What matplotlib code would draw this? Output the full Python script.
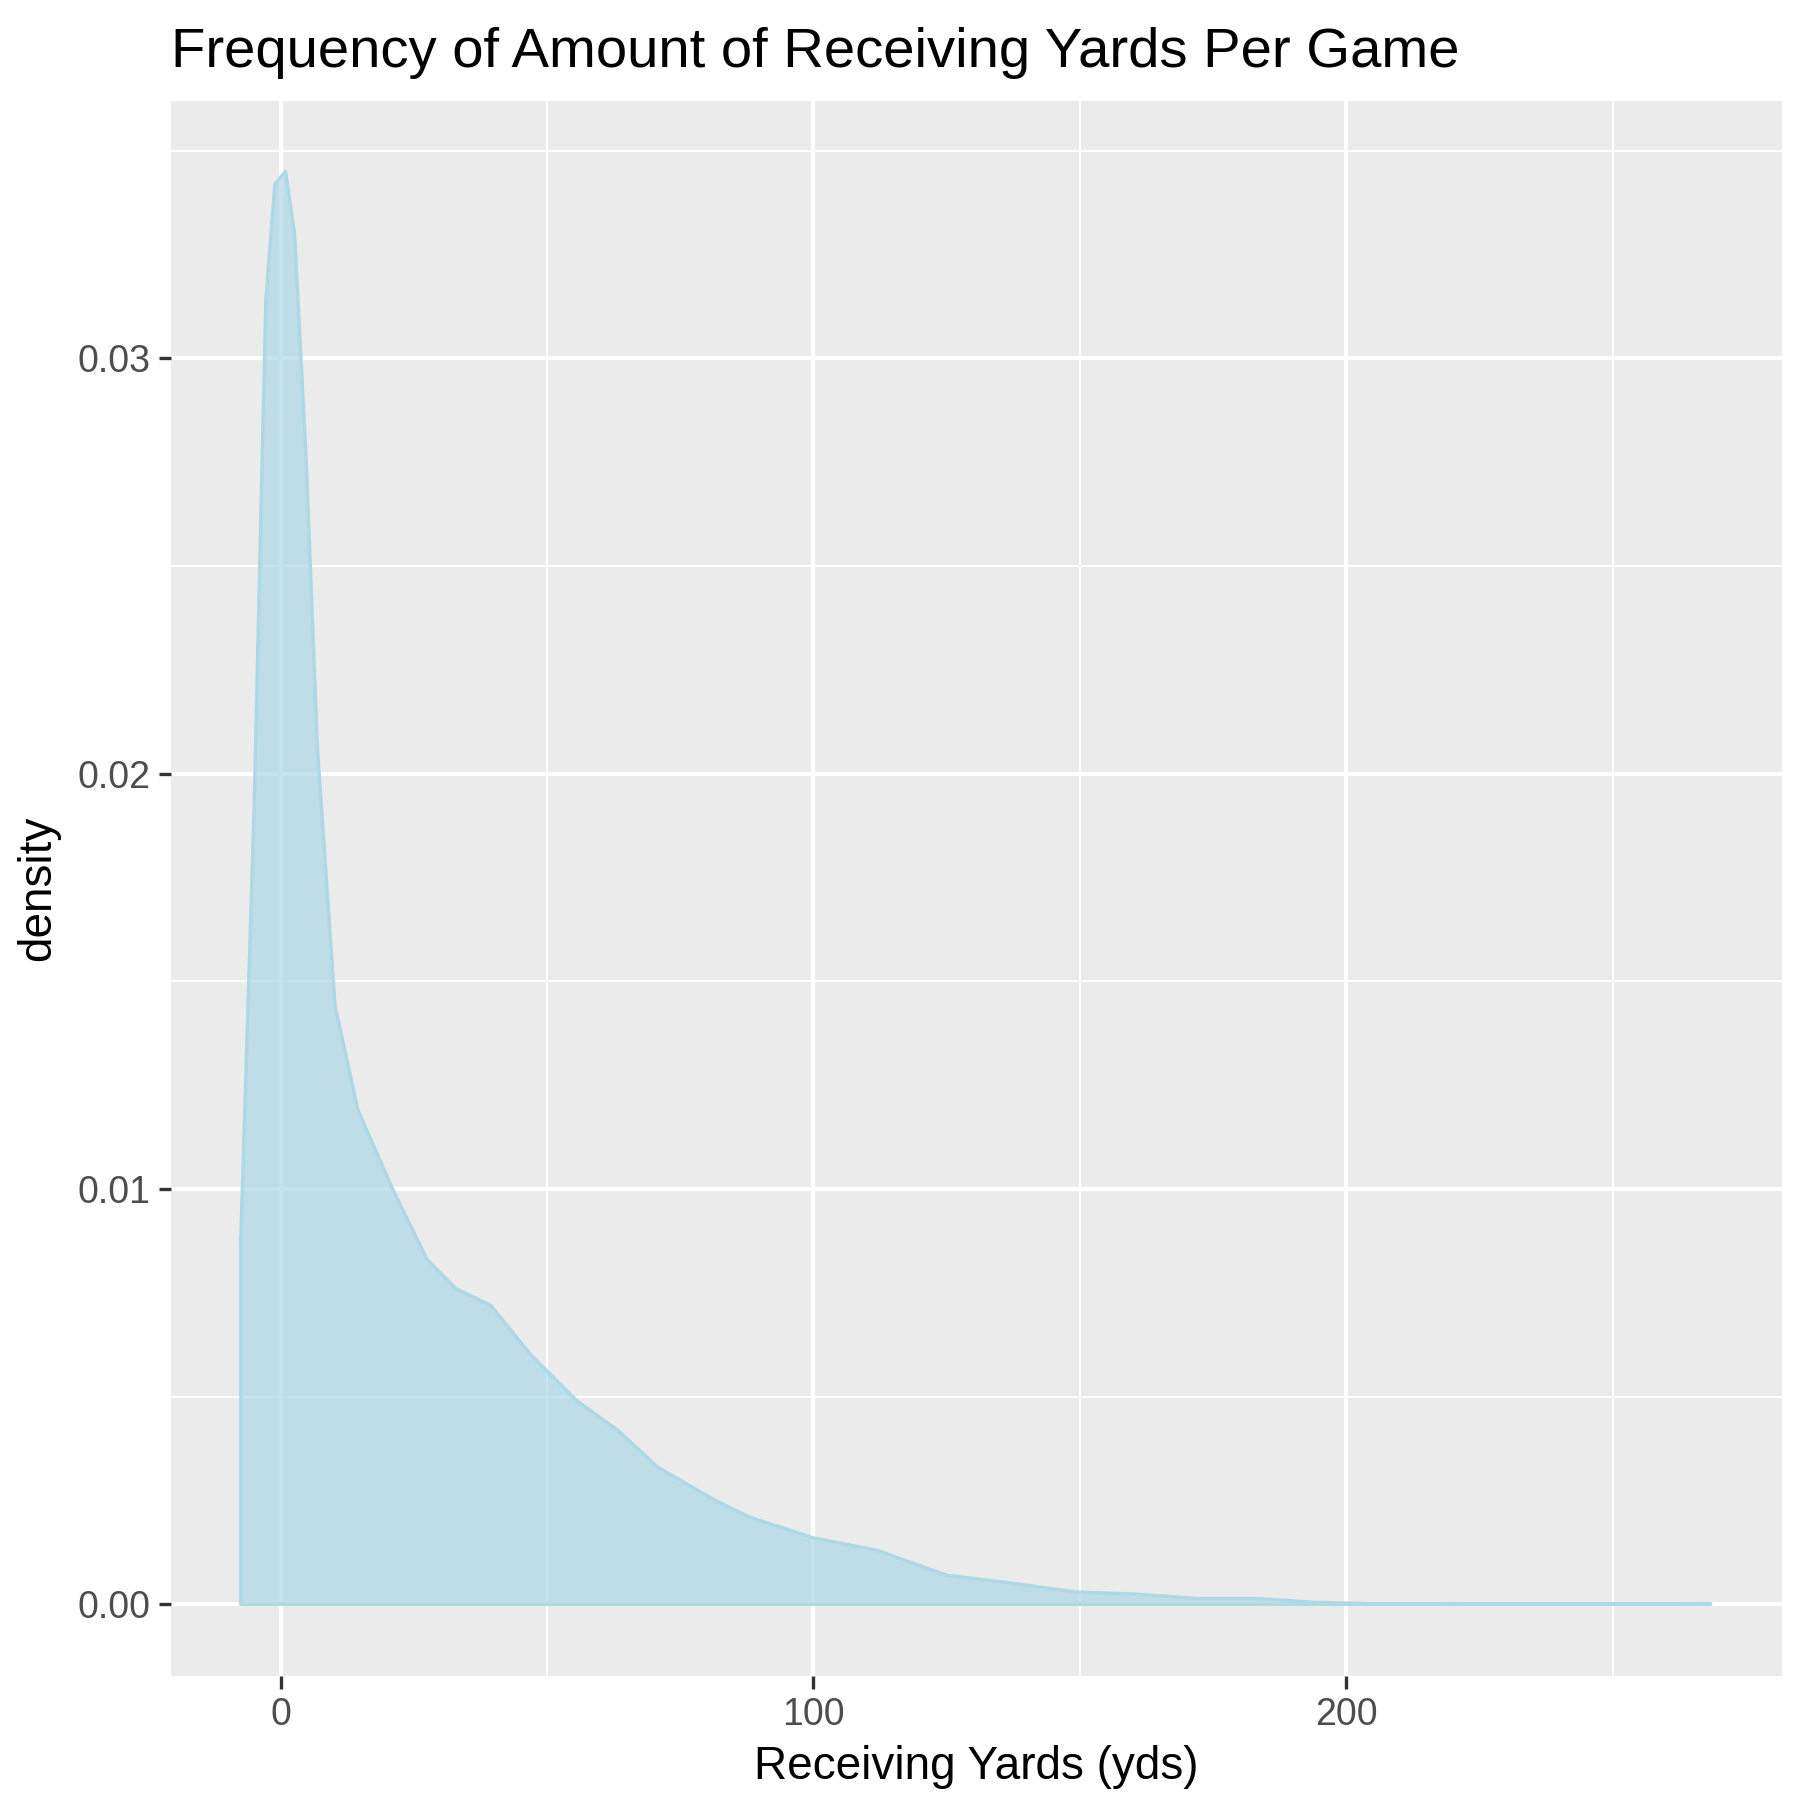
import numpy as np
from matplotlib import pyplot as plt

plt.rcParams['font.family'] = ['Liberation Sans', 'DejaVu Sans']

# density curve
yards = [-7.5, -5, -2.8, -1.1, 0.9, 2.6, 4.8, 6.9, 10.2, 14.5, 21, 27.5, 32.9, 39.4,
         47, 55.6, 63.2, 70.8, 81.6, 88, 100, 112, 125, 138, 149, 160, 172.5, 183,
         194, 207, 220, 235, 268.4]
density = [0.0088, 0.0192, 0.0314, 0.0342, 0.0345, 0.0330, 0.0275, 0.0206, 0.0144,
           0.0119, 0.0100, 0.0083, 0.0076, 0.0072, 0.0060, 0.0049, 0.0042, 0.0033,
           0.0025, 0.0021, 0.0016, 0.0013, 0.0007, 0.0005, 0.0003, 0.00025, 0.00014,
           0.00014, 0.00005, 0.00001, 0.00002, 0.00001, 0.00002]

fig = plt.figure(figsize=(6, 6), dpi=300)
ax = fig.add_axes([0.095, 0.069, 0.895, 0.875])
ax.set_facecolor('#ebebeb')

ax.fill_between(yards, density, 0, color='lightblue', alpha=0.7, lw=0, zorder=3)
ax.plot(yards + [yards[-1], yards[0], yards[0]], density + [0, 0, density[0]],
        color='lightblue', lw=0.8, zorder=4)

ax.set_xlim(-20.6, 281.8)
ax.set_ylim(-0.00172, 0.0362)
ax.set_xticks([0, 100, 200])
ax.set_yticks([0.00, 0.01, 0.02, 0.03])
ax.set_yticklabels(['0.00', '0.01', '0.02', '0.03'])
ax.set_xticks([50, 150, 250], minor=True)
ax.set_yticks([0.005, 0.015, 0.025, 0.035], minor=True)
ax.grid(which='major', color='white', lw=1.0, zorder=1)
ax.grid(which='minor', color='white', lw=0.5, zorder=1)
ax.set_axisbelow(True)
for s in ax.spines.values():
    s.set_visible(False)
ax.tick_params(which='major', length=3, width=0.8, color='#333333', labelsize=9,
               labelcolor='#4d4d4d', pad=2)
ax.tick_params(which='minor', length=0)

ax.set_xlabel('Receiving Yards (yds)', fontsize=11, labelpad=3)
ax.set_ylabel('density', fontsize=11, labelpad=4)
ax.set_title('Frequency of Amount of Receiving Yards Per Game', fontsize=13.5,
             loc='left', pad=8)

fig.savefig('out.png', dpi=300)
